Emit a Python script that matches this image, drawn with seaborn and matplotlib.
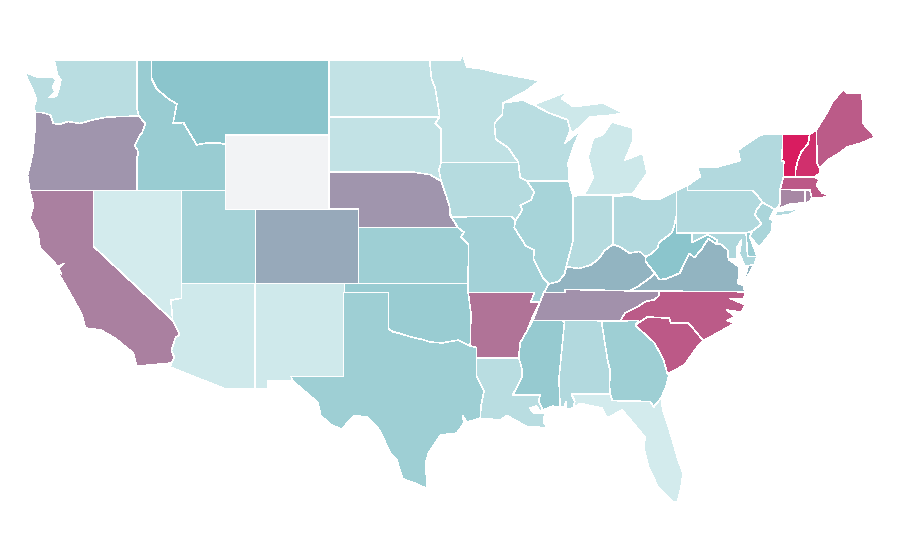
import numpy as np
import pandas as pd
import matplotlib
matplotlib.use("Agg")
import matplotlib.pyplot as plt
from matplotlib.collections import PolyCollection
from matplotlib.colors import Normalize
import seaborn as sns

# Choropleth value of each state (0-100 scale, read from fill colours); NaN = no data
STATE_VALUES = {
    "WA": 18, "OR": 64, "CA": 70, "NV": 0, "ID": 40, "MT": 49, "WY": np.nan, "UT": 32,
    "AZ": 3, "NM": 3, "CO": 58, "ND": 12, "SD": 12, "NE": 64, "KS": 36, "OK": 40,
    "TX": 36, "MN": 13, "IA": 21, "MO": 33, "AR": 74, "LA": 18, "MS": 42, "AL": 23,
    "GA": 36, "FL": 0, "WI": 18, "IL": 30, "IN": 20, "OH": 23, "MI": 4, "KY": 55,
    "TN": 65, "SC": 82, "NC": 81, "VA": 55, "WV": 49, "PA": 23, "NY": 23, "NJ": 28,
    "DE": 38, "MD": 25, "CT": 68, "RI": 68, "MA": 82, "VT": 100, "NH": 94, "ME": 81,
}

# State outlines as (lon, lat) rings
SHAPES = {
 "WA": [[(-122.66,49),(-122.5,48.5),(-122.42,48.2),(-122.2,47.95),(-122.3,47.5),(-122.5,47.05),(-123.0,47.0),(-122.6,47.3),(-122.75,47.55),(-122.5,47.95),(-122.8,48.1),(-123.8,48.1),(-124.63,48.35),(-124.4,47.9),(-124.15,47.5),(-123.85,46.9),(-124.0,46.55),(-123.95,46.2),(-123.5,46.2),(-122.9,46.05),(-122.7,45.6),(-122.3,45.55),(-121.7,45.7),(-120.9,45.6),(-120.0,45.8),(-119.0,45.95),(-116.92,46.0),(-117.04,46.4),(-117.03,49)]],
 "OR": [[(-123.95,46.2),(-123.5,46.2),(-122.9,46.05),(-122.7,45.6),(-122.3,45.55),(-121.7,45.7),(-120.9,45.6),(-120.0,45.8),(-119.0,45.95),(-116.92,46.0),(-116.47,45.6),(-116.7,45.1),(-116.85,44.95),(-117.2,44.4),(-117.03,44.2),(-116.95,43.95),(-117.03,43.8),(-117.03,42),(-124.3,42),(-124.45,42.8),(-124.1,44.0),(-123.95,45.25)]],
 "CA": [[(-124.3,42),(-120,42),(-120,39),(-114.62,35),(-114.15,34.25),(-114.43,34.1),(-114.72,33.4),(-114.52,33.03),(-114.72,32.72),(-117.05,32.55),(-117.3,33.26),(-118.5,34.05),(-119.5,34.5),(-120.55,34.6),(-120.75,35.3),(-121.7,36.65),(-122.4,37.6),(-122.48,37.78),(-122.15,37.5),(-122.35,37.8),(-122.0,38.05),(-122.45,37.9),(-122.6,38.1),(-123.6,38.9),(-123.75,39.7),(-124.3,40.5),(-124.05,41.2)],
        [(-120.2,34.05),(-119.9,34.07),(-120.0,33.95)]],
 "NV": [[(-120,42),(-114.04,42),(-114.04,36.2),(-114.75,36.1),(-114.62,35),(-120,39)]],
 "ID": [[(-117.03,49),(-116.05,49),(-116.05,48.0),(-115.7,47.45),(-114.9,46.92),(-114.35,46.65),(-114.6,45.6),(-113.9,45.65),(-113.45,45.05),(-113.0,44.45),(-112.3,44.55),(-111.5,44.55),(-111.05,44.47),(-111.05,42),(-117.03,42),(-117.03,43.8),(-116.95,43.95),(-117.03,44.2),(-117.2,44.4),(-116.85,44.95),(-116.7,45.1),(-116.47,45.6),(-116.92,46.0),(-117.04,46.4)]],
 "MT": [[(-116.05,49),(-104.05,49),(-104.05,45),(-111.05,45),(-111.05,44.47),(-111.5,44.55),(-112.3,44.55),(-113.0,44.45),(-113.45,45.05),(-113.9,45.65),(-114.6,45.6),(-114.35,46.65),(-114.9,46.92),(-115.7,47.45),(-116.05,48.0)]],
 "WY": [[(-111.05,45),(-104.05,45),(-104.05,41),(-111.05,41)]],
 "UT": [[(-114.04,42),(-111.05,42),(-111.05,41),(-109.05,41),(-109.05,37),(-114.04,37)]],
 "AZ": [[(-114.04,37),(-109.05,37),(-109.05,31.33),(-111.07,31.33),(-114.8,32.5),(-114.72,32.72),(-114.52,33.03),(-114.72,33.4),(-114.43,34.1),(-114.15,34.25),(-114.62,35),(-114.75,36.1),(-114.04,36.2)]],
 "NM": [[(-109.05,37),(-103,37),(-103.05,32),(-106.6,32),(-106.53,31.78),(-108.2,31.78),(-108.2,31.33),(-109.05,31.33)]],
 "CO": [[(-109.05,41),(-102.05,41),(-102.05,37),(-109.05,37)]],
 "ND": [[(-104.05,49),(-97.23,49),(-97.1,48),(-96.85,47.5),(-96.6,46.3),(-96.56,45.94),(-104.05,45.94)]],
 "SD": [[(-104.05,45.94),(-96.56,45.94),(-96.85,45.6),(-96.45,45.3),(-96.45,43.5),(-96.6,43.1),(-96.45,42.5),(-97.2,42.85),(-98.5,43.0),(-104.05,43)]],
 "NE": [[(-104.05,43),(-98.5,43),(-97.2,42.85),(-96.45,42.5),(-96.1,41.7),(-95.9,41.2),(-95.85,40.7),(-95.31,40),(-102.05,40),(-102.05,41),(-104.05,41)]],
 "KS": [[(-102.05,40),(-95.31,40),(-94.9,39.75),(-95.1,39.5),(-94.6,39.1),(-94.62,37),(-102.05,37)]],
 "OK": [[(-103,37),(-94.62,37),(-94.62,36.5),(-94.43,35.4),(-94.48,33.64),(-95.3,33.95),(-96.4,33.8),(-97.2,33.85),(-97.7,33.98),(-98.4,34.1),(-99.2,34.3),(-99.7,34.4),(-100,34.56),(-100,36.5),(-103,36.5)]],
 "TX": [[(-103.05,36.5),(-100,36.5),(-100,34.56),(-99.7,34.4),(-99.2,34.3),(-98.4,34.1),(-97.7,33.98),(-97.2,33.85),(-96.4,33.8),(-95.3,33.95),(-94.48,33.64),(-94.04,33.55),(-94.04,32),(-93.55,31.2),(-93.75,30.4),(-93.8,29.75),(-94.7,29.55),(-95.0,29.9),(-94.9,29.5),(-95.4,28.95),(-96.5,28.85),(-97.3,27.9),(-97.5,27.35),(-97.4,25.97),(-98.2,26.25),(-99.05,26.5),(-99.45,27.5),(-99.9,27.9),(-100.6,29.1),(-101.4,29.8),(-102.3,29.9),(-103.2,29.17),(-103.9,29.4),(-104.6,29.9),(-104.8,30.6),(-106.53,31.78),(-106.6,32),(-103.05,32)]],
 "MN": [[(-97.23,49),(-95.15,49),(-95.04,49.38),(-94.7,48.63),(-93.8,48.55),(-92.46,48.3),(-91.1,48.1),(-89.75,47.9),(-90.8,47.3),(-92.26,46.7),(-92.3,46.1),(-92.85,45.6),(-92.75,44.75),(-91.9,44.3),(-91.22,43.5),(-96.45,43.5),(-96.45,45.3),(-96.85,45.6),(-96.56,45.94),(-96.6,46.3),(-96.85,47.5),(-97.1,48)]],
 "IA": [[(-96.45,43.5),(-91.22,43.5),(-91.1,42.7),(-90.64,42.5),(-90.15,41.9),(-90.35,41.5),(-91.1,41.2),(-90.95,40.95),(-91.42,40.38),(-91.7,40.6),(-95.77,40.58),(-95.9,41.2),(-96.1,41.7),(-96.45,42.5),(-96.6,43.1)]],
 "MO": [[(-95.77,40.58),(-91.7,40.6),(-91.42,40.38),(-91.5,40.0),(-90.7,39.0),(-90.15,38.8),(-90.2,38.3),(-89.55,37.3),(-89.15,36.98),(-89.5,36.5),(-89.75,36.0),(-90.37,36),(-90.15,36.5),(-94.62,36.5),(-94.62,37),(-94.6,39.1),(-95.1,39.5),(-94.9,39.75),(-95.31,40)]],
 "AR": [[(-94.62,36.5),(-90.15,36.5),(-90.37,36),(-89.75,36),(-90.25,35.2),(-90.6,34.5),(-91.1,33.8),(-91.2,33.0),(-94.04,33),(-94.04,33.55),(-94.48,33.64),(-94.43,35.4)]],
 "LA": [[(-94.04,33),(-91.2,33),(-91.0,32.5),(-90.95,32.0),(-91.6,31.0),(-89.75,31),(-89.85,30.65),(-89.55,30.2),(-89.75,30.15),(-90.0,30.4),(-90.45,30.3),(-90.2,30.05),(-89.45,30.0),(-89.5,29.5),(-89.2,29.2),(-90.1,29.3),(-90.65,29.3),(-92.0,29.9),(-92.45,29.66),(-93.8,29.75),(-93.75,30.4),(-93.55,31.2),(-94.04,32)]],
 "MS": [[(-90.25,35),(-88.2,35),(-88.1,34.9),(-88.47,31.9),(-88.4,30.37),(-88.9,30.4),(-89.55,30.2),(-89.85,30.65),(-89.75,31),(-91.6,31),(-90.95,32),(-91,32.5),(-91.2,33),(-91.1,33.8),(-90.6,34.5)]],
 "AL": [[(-88.2,35),(-85.6,35),(-85.18,32.87),(-85.0,32.3),(-85.05,31.55),(-85.0,31),(-87.6,31),(-87.4,30.65),(-87.5,30.3),(-88.0,30.25),(-88.0,30.65),(-88.1,30.35),(-88.4,30.37),(-88.47,31.9),(-88.1,34.9)]],
 "GA": [[(-85.6,35),(-83.1,35),(-83.3,34.76),(-82.9,34.45),(-82.0,33.8),(-81.4,32.9),(-81.12,32.12),(-81.0,32.2),(-81.2,31.5),(-81.55,30.85),(-82.05,30.36),(-82.3,30.65),(-84.86,30.7),(-85.0,31),(-85.05,31.55),(-85,32.3),(-85.18,32.87)]],
 "FL": [[(-87.6,31.05),(-85,31.05),(-84.86,30.7),(-82.3,30.65),(-82.05,30.36),(-81.55,30.85),(-81.45,30.2),(-80.95,29),(-80.4,27.5),(-80.07,26.8),(-80.2,26.05),(-80.45,25.25),(-80.75,25.25),(-81.76,26.05),(-82.4,27.13),(-82.7,28.05),(-82.65,28.74),(-83.45,29.5),(-84.2,30.2),(-85.2,29.76),(-85.55,30.3),(-87.05,30.55),(-87.5,30.3),(-87.4,30.65)]],
 "WI": [[(-92.26,46.7),(-90.9,46.86),(-90.2,46.6),(-89.1,46.15),(-87.9,45.8),(-87.7,45.25),(-88.05,44.55),(-87.0,45.25),(-87.5,44.33),(-87.85,43.5),(-87.8,42.5),(-90.64,42.5),(-91.1,42.7),(-91.22,43.5),(-91.9,44.3),(-92.75,44.75),(-92.85,45.6),(-92.3,46.1)]],
 "IL": [[(-90.64,42.5),(-87.8,42.5),(-87.53,41.7),(-87.53,39.3),(-87.65,38.9),(-87.95,38.0),(-88.1,37.5),(-88.5,37.1),(-89.15,36.98),(-89.55,37.3),(-90.2,38.3),(-90.15,38.8),(-90.7,39.0),(-91.5,40),(-91.42,40.38),(-90.95,40.95),(-91.1,41.2),(-90.35,41.5),(-90.15,41.9)]],
 "IN": [[(-87.53,41.65),(-87.2,41.75),(-86.8,41.76),(-84.8,41.76),(-84.82,39.1),(-85.4,38.75),(-85.8,38.3),(-86.3,38.0),(-87.1,37.8),(-87.95,37.9),(-87.95,38.0),(-87.65,38.9),(-87.53,39.3)]],
 "OH": [[(-84.8,41.7),(-83.45,41.73),(-82.7,41.5),(-81.7,41.5),(-80.52,41.98),(-80.52,40.64),(-80.7,40.0),(-80.85,39.7),(-81.7,39.2),(-81.8,38.9),(-82.2,38.6),(-82.6,38.42),(-83.0,38.72),(-83.7,38.63),(-84.3,38.95),(-84.82,39.1)]],
 "KY": [[(-89.5,36.5),(-88.07,36.5),(-88.07,36.68),(-83.68,36.6),(-83.1,36.85),(-82.3,37.3),(-81.97,37.54),(-82.6,38.17),(-82.6,38.42),(-83,38.72),(-83.7,38.63),(-84.3,38.95),(-84.82,39.1),(-85.4,38.75),(-85.8,38.3),(-86.3,38),(-87.1,37.8),(-87.95,37.9),(-88.1,37.5),(-88.5,37.1),(-89.15,36.98)]],
 "TN": [[(-90.25,35),(-89.75,36),(-89.5,36.5),(-88.07,36.5),(-88.07,36.68),(-83.68,36.6),(-81.68,36.59),(-81.7,36.35),(-82.0,36.12),(-82.6,36.03),(-83.1,35.77),(-84.0,35.4),(-84.32,34.99),(-88.2,35)]],
 "VA": [[(-83.68,36.6),(-75.87,36.55),(-76.0,36.9),(-76.35,37.0),(-76.3,37.5),(-76.3,37.9),(-77.0,38.3),(-77.05,38.8),(-77.5,39.1),(-77.83,39.13),(-78.35,39.4),(-78.85,38.8),(-79.3,38.4),(-79.65,38.6),(-80.3,37.55),(-81.2,37.25),(-81.68,37.2),(-81.97,37.54),(-82.3,37.3),(-83.1,36.85)],
        [(-75.95,37.15),(-75.65,37.95),(-75.25,38.03),(-75.6,37.5)]],
 "NC": [[(-84.32,34.99),(-84,35.4),(-83.1,35.77),(-82.6,36.03),(-82,36.12),(-81.7,36.35),(-81.68,36.59),(-75.87,36.55),(-75.95,36.2),(-76.9,36.2),(-75.85,35.85),(-76.1,35.45),(-77.1,35.57),(-76.55,35.2),(-77.1,35),(-76.55,34.87),(-78.05,34.2),(-78.7,33.93),(-79.7,34.87),(-80.9,34.87),(-81,35.13),(-82.5,35.2),(-83.3,34.76),(-83.1,35)]],
 "SC": [[(-83.3,34.76),(-82.5,35.2),(-81,35.13),(-80.9,34.87),(-79.7,34.87),(-78.7,33.93),(-79.1,33.6),(-80.0,32.6),(-81.0,32.2),(-81.12,32.12),(-81.4,32.9),(-82.0,33.8),(-82.9,34.45)]],
 "WV": [[(-82.6,38.17),(-81.97,37.54),(-81.68,37.2),(-81.2,37.25),(-80.3,37.55),(-79.65,38.6),(-79.3,38.4),(-78.85,38.8),(-78.35,39.4),(-77.83,39.13),(-77.73,39.32),(-78.4,39.62),(-79.48,39.2),(-79.48,39.72),(-80.52,39.72),(-80.52,40.64),(-80.7,40),(-80.85,39.7),(-81.7,39.2),(-81.8,38.9),(-82.2,38.6),(-82.6,38.42)]],
 "PA": [[(-80.52,41.98),(-79.76,42.27),(-79.76,42),(-75.35,42),(-75.05,41.75),(-74.7,41.36),(-75.1,40.95),(-75.2,40.68),(-74.75,40.2),(-75.4,39.8),(-75.8,39.72),(-80.52,39.72)]],
 "NY": [[(-79.76,42.27),(-78.9,42.75),(-79.1,43.25),(-77.7,43.27),(-76.2,43.6),(-76.35,44.17),(-75.0,44.9),(-74.7,45),(-73.35,45),(-73.35,44.2),(-73.4,43.6),(-73.25,43.55),(-73.27,42.75),(-73.5,42.05),(-73.5,41.3),(-73.7,41.05),(-73.9,41.0),(-74.7,41.36),(-75.05,41.75),(-75.35,42),(-79.76,42)],
        [(-74.0,40.6),(-73.7,40.87),(-72.6,40.97),(-72.0,41.05),(-72.9,40.7)]],
 "NJ": [[(-74.7,41.36),(-73.9,41.0),(-74.2,40.45),(-74.0,40.4),(-74.1,39.75),(-74.9,38.95),(-75.55,39.5),(-75.4,39.8),(-74.75,40.2),(-75.2,40.68),(-75.1,40.95)]],
 "DE": [[(-75.8,39.72),(-75.4,39.8),(-75.55,39.5),(-75.05,38.45),(-75.7,38.46)]],
 "MD": [[(-79.48,39.72),(-75.8,39.72),(-75.7,38.46),(-75.05,38.45),(-75.25,38.03),(-75.65,37.95),(-75.9,37.95),(-76.25,38.6),(-76.1,39.35),(-76.45,38.9),(-76.45,38.3),(-77.0,38.3),(-77.05,38.8),(-77.5,39.1),(-77.83,39.13),(-77.73,39.32),(-78.4,39.62),(-79.48,39.2)]],
 "CT": [[(-73.5,42.05),(-71.8,42.02),(-71.8,41.35),(-72.9,41.25),(-73.7,41.0),(-73.5,41.3)]],
 "RI": [[(-71.8,42.02),(-71.48,42.02),(-71.35,41.6),(-71.5,41.37),(-71.8,41.35)]],
 "MA": [[(-73.5,42.05),(-73.27,42.72),(-71.15,42.72),(-70.85,42.56),(-71.05,42.3),(-70.65,41.86),(-70.1,41.75),(-70.65,41.6),(-71.35,41.6),(-71.48,42.02),(-71.8,42.02)]],
 "VT": [[(-73.35,45),(-71.5,45),(-71.6,44.5),(-72.05,44.1),(-72.3,43.6),(-72.45,43.1),(-72.46,42.72),(-73.27,42.72),(-73.25,43.55),(-73.4,43.6),(-73.35,44.2)]],
 "NH": [[(-71.5,45),(-71.05,45.25),(-70.98,43.4),(-70.8,43.2),(-70.85,42.9),(-71.15,42.72),(-72.46,42.72),(-72.45,43.1),(-72.3,43.6),(-72.05,44.1),(-71.6,44.5)]],
 "ME": [[(-71.05,45.25),(-70.3,46.2),(-70.0,46.7),(-69.25,47.42),(-68.9,47.2),(-67.95,47.24),(-67.88,45.6),(-67.07,44.87),(-68.0,44.55),(-68.95,44.33),(-69.5,44.0),(-70.3,43.63),(-70.8,43.2),(-70.98,43.4)]],
 "MI": [[(-86.8,41.76),(-84.8,41.76),(-83.45,41.85),(-82.5,42.93),(-82.8,44.0),(-84.0,43.63),(-83.45,44.7),(-83.45,45.35),(-84.9,45.68),(-85.5,45.0),(-86.15,44.8),(-86.5,43.8),(-86.15,42.7),(-86.6,42.0)],
        [(-90.2,46.6),(-89.1,46.15),(-87.9,45.8),(-87.7,45.25),(-87.5,45.1),(-86.35,45.95),(-84.9,46.05),(-84.1,46.16),(-85.5,46.7),(-87.5,46.5),(-88.3,46.95),(-87.8,47.4),(-88.5,47.13)],
        [(-89.15,47.85),(-88.5,48.15),(-88.7,47.95)]],
}

COLORS = ["#d3ebed", "#8ac4cb", "#d91c60"]
MISSING = "#f2f3f5"

sns.set_theme(style="white")
fig = plt.figure(figsize=(9, 5.6), dpi=100, facecolor="white")
ax = fig.add_axes([0, 0, 1, 1])
ax.set_axis_off()

cmap = sns.blend_palette(COLORS, n_colors=256, as_cmap=True)
cmap.set_bad(MISSING)

table = pd.Series(STATE_VALUES, name="value").rename_axis("state").reset_index()
rings, ring_values = [], []
for row in table.itertuples():
    for ring in SHAPES[row.state]:
        rings.append(ring)
        ring_values.append(row.value)

states = PolyCollection(rings, array=np.array(ring_values, dtype=float), cmap=cmap,
                        norm=Normalize(0, 100), edgecolors="white", linewidths=0.4,
                        antialiaseds=False)
ax.add_collection(states)

# Plate-carree style framing: 14.77 px per degree lon, 18.6 px per degree lat
ax.set_xlim(-126.318, -65.38)
ax.set_ylim(22.13, 52.237)

fig.savefig("out.png", dpi=100)
